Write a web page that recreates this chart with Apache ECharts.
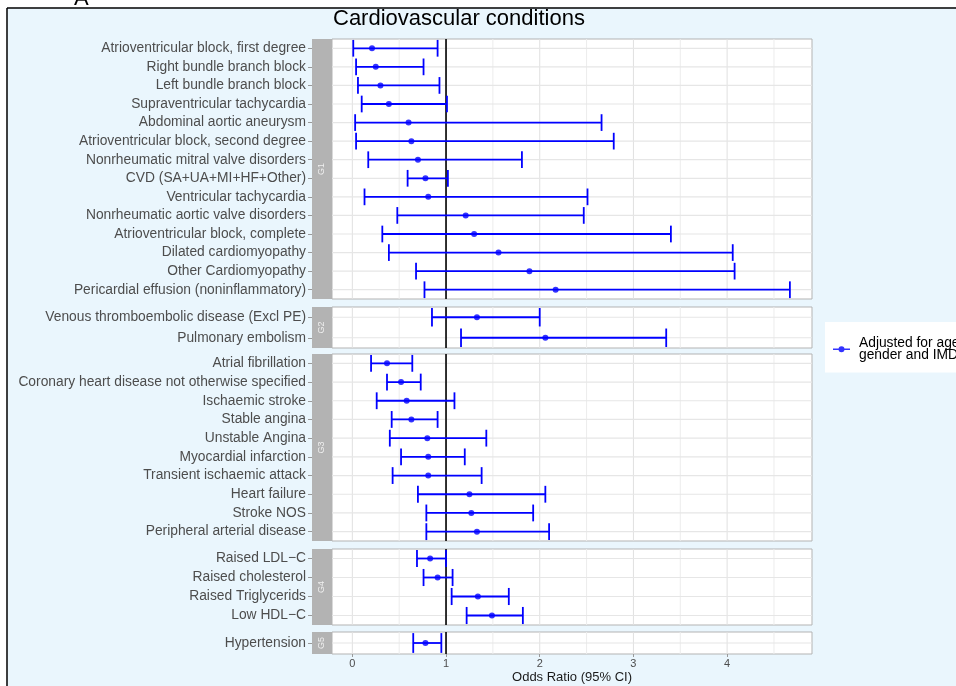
<!DOCTYPE html>
<html>
<head>
<meta charset="utf-8">
<script src="https://cdn.jsdelivr.net/npm/echarts@6/dist/echarts.min.js"></script>
<style>html,body{margin:0;padding:0;background:#fff;}#chart{width:956px;height:686px;}</style>
</head>
<body>
<div id="chart"></div>
<script>
// ---------- data ----------
const groupNames = ['G1', 'G2', 'G3', 'G4', 'G5'];

const g1Labels = ['Atrioventricular block, first degree', 'Right bundle branch block', 'Left bundle branch block',
  'Supraventricular tachycardia', 'Abdominal aortic aneurysm', 'Atrioventricular block, second degree',
  'Nonrheumatic mitral valve disorders', 'CVD (SA+UA+MI+HF+Other)', 'Ventricular tachycardia',
  'Nonrheumatic aortic valve disorders', 'Atrioventricular block, complete', 'Dilated cardiomyopathy',
  'Other Cardiomyopathy', 'Pericardial effusion (noninflammatory)'];
const g1OR    = [0.21, 0.25, 0.30, 0.39, 0.60, 0.63, 0.70, 0.78, 0.81, 1.21, 1.30, 1.56, 1.89, 2.17];
const g1Lower = [0.01, 0.04, 0.06, 0.10, 0.03, 0.04, 0.17, 0.59, 0.13, 0.48, 0.32, 0.39, 0.68, 0.77];
const g1Upper = [0.91, 0.76, 0.93, 1.01, 2.66, 2.79, 1.81, 1.02, 2.51, 2.47, 3.40, 4.06, 4.08, 4.67];

const g2Labels = ['Venous thromboembolic disease (Excl PE)', 'Pulmonary embolism'];
const g2OR    = [1.33, 2.06];
const g2Lower = [0.85, 1.16];
const g2Upper = [2.00, 3.35];

const g3Labels = ['Atrial fibrillation', 'Coronary heart disease not otherwise specified', 'Ischaemic stroke',
  'Stable angina', 'Unstable Angina', 'Myocardial infarction', 'Transient ischaemic attack',
  'Heart failure', 'Stroke NOS', 'Peripheral arterial disease'];
const g3OR    = [0.37, 0.52, 0.58, 0.63, 0.80, 0.81, 0.81, 1.25, 1.27, 1.33];
const g3Lower = [0.20, 0.37, 0.26, 0.42, 0.40, 0.52, 0.43, 0.70, 0.79, 0.79];
const g3Upper = [0.64, 0.73, 1.09, 0.91, 1.43, 1.20, 1.38, 2.06, 1.93, 2.10];

const g4Labels = ['Raised LDL\u2212C', 'Raised cholesterol', 'Raised Triglycerids', 'Low HDL\u2212C'];
const g4OR    = [0.83, 0.91, 1.34, 1.49];
const g4Lower = [0.69, 0.76, 1.06, 1.22];
const g4Upper = [1.00, 1.07, 1.67, 1.82];

const g5Labels = ['Hypertension'];
const g5OR    = [0.78];
const g5Lower = [0.65];
const g5Upper = [0.95];

const xTicks = [0, 1, 2, 3, 4];
const xMinorGrid = [0.5, 1.5, 2.5, 3.5, 4.5];
const refValue = [1];
const legendName = 'Adjusted for age,\ngender and IMD';

// ---------- layout ----------
const FONT = '"Liberation Sans", Arial, sans-serif';
const panelTop = [39, 307, 354, 549, 632];
const panelHeight = [260, 41, 187, 76, 22];
const panelLeft = 332, panelRight = 144, stripW = 20;
const xMin = -0.217, xMax = 4.906;
const BLUE = '#0000ff';

const groups = [
  [g1Labels, g1OR, g1Lower, g1Upper],
  [g2Labels, g2OR, g2Lower, g2Upper],
  [g3Labels, g3OR, g3Lower, g3Upper],
  [g4Labels, g4OR, g4Lower, g4Upper],
  [g5Labels, g5OR, g5Lower, g5Upper]
];

const grids = [], xAxes = [], yAxes = [], series = [], graphics = [];

// page frame
graphics.push({ type: 'rect', shape: { x: 0, y: 0, width: 956, height: 7.5 }, style: { fill: '#fff' }, silent: true });
graphics.push({ type: 'rect', shape: { x: 0, y: 0, width: 6.5, height: 686 }, style: { fill: '#fff' }, silent: true });
graphics.push({ type: 'line', shape: { x1: 7, y1: 8, x2: 956, y2: 8 }, style: { stroke: '#000', lineWidth: 1.5 }, silent: true });
graphics.push({ type: 'line', shape: { x1: 7, y1: 8, x2: 7, y2: 686 }, style: { stroke: '#000', lineWidth: 1.5 }, silent: true });
graphics.push({ type: 'text', x: 74, y: -12, style: { text: 'A', fill: '#000', font: '22px ' + FONT, align: 'left', verticalAlign: 'top' }, silent: true });

groups.forEach(function (g, i) {
  const labels = g[0], or = g[1], lo = g[2], hi = g[3];
  const isLast = i === groups.length - 1;
  grids.push({
    left: panelLeft, right: panelRight, top: panelTop[i], height: panelHeight[i],
    show: true, backgroundColor: '#ffffff', borderColor: '#b3b3b3', borderWidth: 1,
    containLabel: false, outerBoundsMode: 'none'
  });
  xAxes.push({
    type: 'value', gridIndex: i, min: xMin, max: xMax,
    axisLine: { show: false, onZero: false }, splitLine: { show: false },
    axisTick: { show: isLast, customValues: xTicks, length: 3, lineStyle: { color: '#999' } },
    axisLabel: { show: isLast, customValues: xTicks, fontSize: 11, color: '#4d4d4d', margin: 4, fontFamily: FONT },
    name: isLast ? 'Odds Ratio (95% CI)' : '', nameLocation: 'middle', nameGap: 17,
    nameTextStyle: { fontSize: 13, color: '#1a1a1a', fontFamily: FONT }
  });
  yAxes.push({
    type: 'category', gridIndex: i, data: labels, inverse: true, offset: stripW,
    axisLine: { show: false, onZero: false }, splitLine: { show: false },
    axisTick: { show: true, alignWithLabel: true, interval: 0, length: 4, lineStyle: { color: '#999' } },
    axisLabel: { interval: 0, fontSize: 13.8, color: '#4d4d4d', margin: 6, fontFamily: FONT }
  });
  // vertical grid lines (major + minor)
  series.push({
    type: 'custom', xAxisIndex: i, yAxisIndex: i, z: 1, silent: true,
    data: xTicks.map(function (v) { return [v, 0, 1]; }).concat(xMinorGrid.map(function (v) { return [v, 0, 0]; })),
    encode: { x: 0 },
    renderItem: function (params, api) {
      const cs = params.coordSys;
      const x = api.coord([api.value(0), 0])[0];
      const major = api.value(2) === 1;
      return { type: 'line', shape: { x1: x, y1: cs.y, x2: x, y2: cs.y + cs.height },
        style: { stroke: major ? '#e0e0e0' : '#ececec', lineWidth: 1 } };
    }
  });
  // horizontal grid lines at categories
  series.push({
    type: 'custom', xAxisIndex: i, yAxisIndex: i, z: 1, silent: true,
    data: labels.map(function (l) { return [0, l]; }),
    encode: { x: 0, y: 1 },
    renderItem: function (params, api) {
      const cs = params.coordSys;
      const y = api.coord([0, api.value(1)])[1];
      return { type: 'line', shape: { x1: cs.x, y1: y, x2: cs.x + cs.width, y2: y },
        style: { stroke: '#e6e6e6', lineWidth: 1.2 } };
    }
  });
  // reference line at OR = 1
  series.push({
    type: 'custom', xAxisIndex: i, yAxisIndex: i, z: 2, silent: true,
    data: refValue.map(function (v) { return [v, 0]; }),
    encode: { x: 0 },
    renderItem: function (params, api) {
      const cs = params.coordSys;
      const x = api.coord([api.value(0), 0])[0];
      return { type: 'line', shape: { x1: x, y1: cs.y, x2: x, y2: cs.y + cs.height },
        style: { stroke: '#000', lineWidth: 1.6 } };
    }
  });
  // error bars
  series.push({
    type: 'custom', xAxisIndex: i, yAxisIndex: i, z: 3, silent: true,
    data: labels.map(function (l, k) { return [lo[k], hi[k], l]; }),
    encode: { x: [0, 1], y: 2 },
    renderItem: function (params, api) {
      const yv = api.value(2);
      const p1 = api.coord([api.value(0), yv]);
      const p2 = api.coord([api.value(1), yv]);
      const h = api.size([0, 1])[1] * 0.45;
      const st = { stroke: BLUE, lineWidth: 1.8 };
      return { type: 'group', children: [
        { type: 'line', shape: { x1: p1[0], y1: p1[1], x2: p2[0], y2: p2[1] }, style: st },
        { type: 'line', shape: { x1: p1[0], y1: p1[1] - h, x2: p1[0], y2: p1[1] + h }, style: st },
        { type: 'line', shape: { x1: p2[0], y1: p2[1] - h, x2: p2[0], y2: p2[1] + h }, style: st }
      ] };
    }
  });
  // point estimates
  series.push({
    type: 'scatter', name: legendName, xAxisIndex: i, yAxisIndex: i, z: 4,
    data: labels.map(function (l, k) { return [or[k], l]; }),
    symbol: 'circle', symbolSize: 6, itemStyle: { color: BLUE }
  });
  // strip
  graphics.push({ type: 'rect', shape: { x: panelLeft - stripW, y: panelTop[i], width: stripW, height: panelHeight[i] },
    style: { fill: '#b3b3b3' }, silent: true });
  graphics.push({ type: 'text', x: panelLeft - stripW / 2, y: panelTop[i] + panelHeight[i] / 2, rotation: Math.PI / 2,
    style: { text: groupNames[i], fill: '#f0f0f0', font: '9px ' + FONT, align: 'center', verticalAlign: 'middle' }, silent: true });
});

const chart = echarts.init(document.getElementById('chart'), null, { renderer: 'canvas' });
chart.setOption({
  animation: false,
  backgroundColor: '#eaf6fd',
  title: { text: 'Cardiovascular conditions', left: 333, top: 8, padding: 0,
    textStyle: { fontSize: 22, fontWeight: 'normal', color: '#000', fontFamily: FONT } },
  legend: {
    left: 825, top: 322, orient: 'vertical', backgroundColor: '#ffffff', padding: [14, 12, 10, 8],
    itemWidth: 17, itemHeight: 6, selectedMode: false,
    textStyle: { fontSize: 13.8, lineHeight: 12.5, color: '#000', fontFamily: FONT, padding: [0, 0, 0, 4] },
    data: [{ name: legendName, icon: 'path://M0,2.2L17,2.2L17,3.8L0,3.8Z M5.5,3 a3,3 0 1,1 6,0 a3,3 0 1,1 -6,0 Z' }]
  },
  grid: grids, xAxis: xAxes, yAxis: yAxes, series: series, graphic: graphics
});
</script>
</body>
</html>
